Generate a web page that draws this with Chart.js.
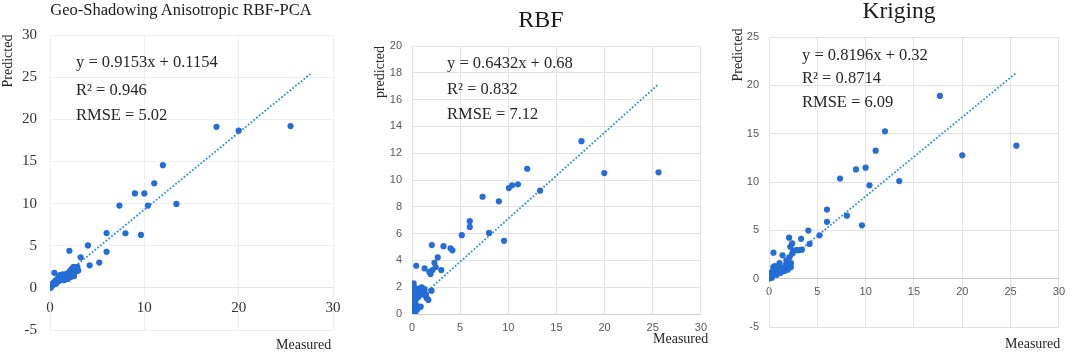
<!DOCTYPE html>
<html><head><meta charset="utf-8">
<script src="https://cdn.jsdelivr.net/npm/chart.js@4"></script>
<style>
html,body{margin:0;padding:0;background:#fff;}
body{width:1072px;height:353px;overflow:hidden;position:relative;font-family:'Liberation Serif','Times New Roman',serif;}
.wrap{position:absolute;top:0;height:353px;}
.t{position:absolute;white-space:nowrap;color:#262626;line-height:1;}
.c{transform:translateX(-50%);}
.r{transform:translate(-50%,-50%) rotate(-90deg);}
</style></head><body>
<div class="wrap" style="left:0;width:355px"><canvas id="c1" width="355" height="353"></canvas></div>
<div class="wrap" style="left:357px;width:357px"><canvas id="c2" width="357" height="353"></canvas></div>
<div class="wrap" style="left:715px;width:357px"><canvas id="c3" width="357" height="353"></canvas></div>

<div class="t c" style="left:181px;top:2px;font-size:16.5px;color:#1a1a1a">Geo-Shadowing Anisotropic RBF-PCA</div>
<div class="t c" style="left:541px;top:7px;font-size:24px;color:#1a1a1a">RBF</div>
<div class="t c" style="left:899px;top:-1px;font-size:23.5px;color:#1a1a1a">Kriging</div>

<div class="t" style="left:76px;top:54px;font-size:16.5px">y = 0.9153x + 0.1154</div>
<div class="t" style="left:76px;top:82px;font-size:16.5px">R² = 0.946</div>
<div class="t" style="left:76px;top:107px;font-size:16.5px">RMSE = 5.02</div>

<div class="t" style="left:447px;top:55px;font-size:16.5px">y = 0.6432x + 0.68</div>
<div class="t" style="left:447px;top:81px;font-size:16.5px">R² = 0.832</div>
<div class="t" style="left:447px;top:106px;font-size:16.5px">RMSE = 7.12</div>

<div class="t" style="left:802px;top:47px;font-size:16.5px">y = 0.8196x + 0.32</div>
<div class="t" style="left:802px;top:70px;font-size:16.5px">R² = 0.8714</div>
<div class="t" style="left:802px;top:94px;font-size:16.5px">RMSE = 6.09</div>

<div class="t r" style="left:8px;top:61px;font-size:14px">Predicted</div>
<div class="t r" style="left:380px;top:72px;font-size:14px">predicted</div>
<div class="t r" style="left:738px;top:55px;font-size:14px">Predicted</div>

<div class="t" style="left:276px;top:338px;font-size:14px">Measured</div>
<div class="t" style="left:653px;top:332px;font-size:14px">Measured</div>
<div class="t" style="left:1005px;top:337px;font-size:14px">Measured</div>

<script>
// ---- Panel 1: Geo-Shadowing Anisotropic RBF-PCA ----
const p1Measured = [17.65,20.0,25.5,11.97,11.05,9.0,10.0,7.36,10.38,13.4,6.0,8.0,9.64,2.05,4.02,6.0,3.25,4.2,5.22,
  0.46,0.02,0.05,0.1,0.12,0.18,0.22,0.28,0.3,0.35,0.4,0.45,0.5,0.55,0.6,0.65,0.7,0.78,0.85,0.9,0.95,1.0,1.05,1.1,1.2,1.3,1.35,1.45,1.5,1.6,1.7,1.8,1.9,2.0,2.1,2.2,2.3,2.4,2.5,2.55,2.65,2.8,2.9,3.0];
const p1Predicted = [19.1,18.65,19.2,14.55,12.4,11.2,11.2,9.76,9.76,9.96,6.5,6.48,6.28,4.4,5.04,4.28,3.62,2.67,3.0,
  1.78,0.02,0.12,0.05,0.25,0.18,0.35,0.3,0.5,0.42,0.62,0.5,0.72,0.6,0.85,0.5,0.95,0.75,1.05,1.3,0.8,1.2,1.5,0.95,1.35,1.1,1.6,1.25,0.9,1.45,1.15,1.7,1.05,1.6,2.0,1.3,2.25,1.9,2.5,1.4,2.2,2.0,2.5,2.05];
const p1TrendX = [0, 27.6];
const p1TrendY = [0.12, 25.38];
const p1XTicks = [0, 10, 20, 30];
const p1YTicks = [-5, 0, 5, 10, 15, 20, 25, 30];

// ---- Panel 2: RBF ----
const p2Measured = [17.6,19.97,25.6,11.96,11.0,10.4,10.06,13.3,7.33,9.02,6.0,6.0,5.17,8.0,9.56,2.06,3.27,4.0,4.2,0.44,1.31,2.67,2.33,2.13,1.93,1.79,3.04,2.46,
  0.17,1.01,2.03,1.45,0.8,1.5,1.2,1.7,0.9,0.6,0.4,0.1,0.3,0.15,0.05,0.25,0.12,0.35,0.05,0.2,0.45,0.1,0.3,0.05,0.15,0.02,0.08,0.2,0.6,0.7,0.5,0.02,0.25,1.3,0.9,0.4];
const p2Predicted = [12.9,10.52,10.57,10.84,9.68,9.6,9.4,9.2,8.75,8.41,6.93,6.5,5.88,6.05,5.46,5.14,5.06,4.9,4.75,3.6,3.4,4.22,3.82,3.28,2.98,3.15,3.28,3.5,
  2.28,1.99,1.74,1.49,1.9,1.2,1.45,1.05,0.55,1.75,1.85,1.8,1.6,1.4,1.2,1.1,0.95,0.9,0.8,0.7,0.65,0.5,0.45,0.35,0.25,0.15,0.05,0.1,0.4,1.3,1.2,0.6,2.0,1.85,1.6,0.2];
const p2TrendX = [0, 25.6];
const p2TrendY = [0.68, 17.15];
const p2XTicks = [0, 5, 10, 15, 20, 25, 30];
const p2YTicks = [0, 2, 4, 6, 8, 10, 12, 14, 16, 18, 20];

// ---- Panel 3: Kriging ----
const p3Measured = [17.68,20.0,25.6,12.0,11.04,10.0,9.0,7.35,10.4,13.48,6.0,6.0,8.06,9.62,4.07,5.23,4.2,3.32,2.08,2.4,0.46,1.4,
  2.2,2.5,2.8,3.1,3.4,2.4,2.1,1.77,2.27,1.09,1.93,2.27,1.6,1.4,1.2,1.0,0.85,0.7,0.6,0.5,0.4,0.35,0.25,0.2,0.15,0.1,0.05,0.02,0.3,0.45,0.6,0.8,1.2,1.6,1.8,0.15,0.05,0.5,1.0];
const p3Predicted = [18.9,12.76,13.76,15.24,13.24,11.48,11.3,10.36,9.66,10.1,7.15,5.88,6.52,5.52,4.97,4.48,3.59,4.12,4.24,3.65,2.69,2.41,
  3.3,2.9,2.95,2.95,3.0,2.6,2.2,1.45,1.62,1.62,0.93,1.2,1.2,0.95,1.1,0.8,1.05,0.6,0.9,0.5,0.75,0.3,0.5,0.2,0.35,0.1,0.15,0.02,0.1,1.2,1.3,0.4,0.6,0.8,1.9,0.6,0.4,1.0,1.3];
const p3TrendX = [0, 25.6];
const p3TrendY = [0.32, 21.3];
const p3XTicks = [0, 5, 10, 15, 20, 25, 30];
const p3YTicks = [-5, 0, 5, 10, 15, 20, 25];

const dotColor = '#246dd6';
const lineColor = '#2f8ef0';

function pts(xs, ys){ return xs.map((x,i)=>({x:x, y:ys[i]})); }

function build(id, cfg){
  const xt = cfg.xTicks, yt = cfg.yTicks;
  new Chart(document.getElementById(id), {
    type: 'scatter',
    data: { datasets: [
      { data: pts(cfg.mx, cfg.py), backgroundColor: dotColor, borderColor: dotColor, borderWidth: 0,
        pointRadius: 3.1, pointHoverRadius: 3.1, order: 0 },
      { data: pts(cfg.tx, cfg.ty), showLine: true, borderColor: lineColor, borderWidth: 1.8,
        borderDash: [1.8, 1.8], pointRadius: 0, fill: false, order: 1 }
    ]},
    options: {
      responsive: false, animation: false, events: [],
      layout: { padding: cfg.pad },
      plugins: { legend: { display: false }, tooltip: { enabled: false } },
      scales: {
        x: {
          type: 'linear', min: xt[0], max: xt[xt.length-1], position: { y: 0 },
          afterBuildTicks: s => { s.ticks = xt.map(v => ({value: v})); },
          ticks: { font: cfg.tickFont, color: cfg.tickColor, padding: cfg.xPad, maxRotation: 0, autoSkip: false },
          grid: { color: cfg.gridColor, drawTicks: false, lineWidth: 1 },
          border: { color: cfg.borderColor, width: 1 }
        },
        y: {
          type: 'linear', min: yt[0], max: yt[yt.length-1],
          afterBuildTicks: s => { s.ticks = yt.map(v => ({value: v})); },
          afterFit: s => { s.width = cfg.yWidth; },
          ticks: { font: cfg.tickFont, color: cfg.tickColor, padding: cfg.yPad, autoSkip: false },
          grid: { color: cfg.gridColor, drawTicks: false, lineWidth: 1 },
          border: { color: cfg.gridColor, width: 1 }
        }
      }
    }
  });
}

build('c1', { mx: p1Measured, py: p1Predicted, tx: p1TrendX, ty: p1TrendY, xTicks: p1XTicks, yTicks: p1YTicks,
  pad: { left: 0, top: 35, right: 22, bottom: 23 }, yWidth: 50,
  tickFont: { family: "'Liberation Serif', serif", size: 15 }, tickColor: '#333333',
  xPad: 11, yPad: 13, gridColor: '#efefef', borderColor: '#e6e6e6' });

build('c2', { mx: p2Measured, py: p2Predicted, tx: p2TrendX, ty: p2TrendY, xTicks: p2XTicks, yTicks: p2YTicks,
  pad: { left: 0, top: 46, right: 6, bottom: 39 }, yWidth: 55,
  tickFont: { family: "'Liberation Sans', sans-serif", size: 11 }, tickColor: '#595959',
  xPad: 7, yPad: 10, gridColor: '#e3e3e3', borderColor: '#d0d0d0' });

build('c3', { mx: p3Measured, py: p3Predicted, tx: p3TrendX, ty: p3TrendY, xTicks: p3XTicks, yTicks: p3YTicks,
  pad: { left: 0, top: 37, right: 7, bottom: 26 }, yWidth: 54,
  tickFont: { family: "'Liberation Sans', sans-serif", size: 11 }, tickColor: '#595959',
  xPad: 7, yPad: 10, gridColor: '#e3e3e3', borderColor: '#cccccc' });
</script>
</body></html>
